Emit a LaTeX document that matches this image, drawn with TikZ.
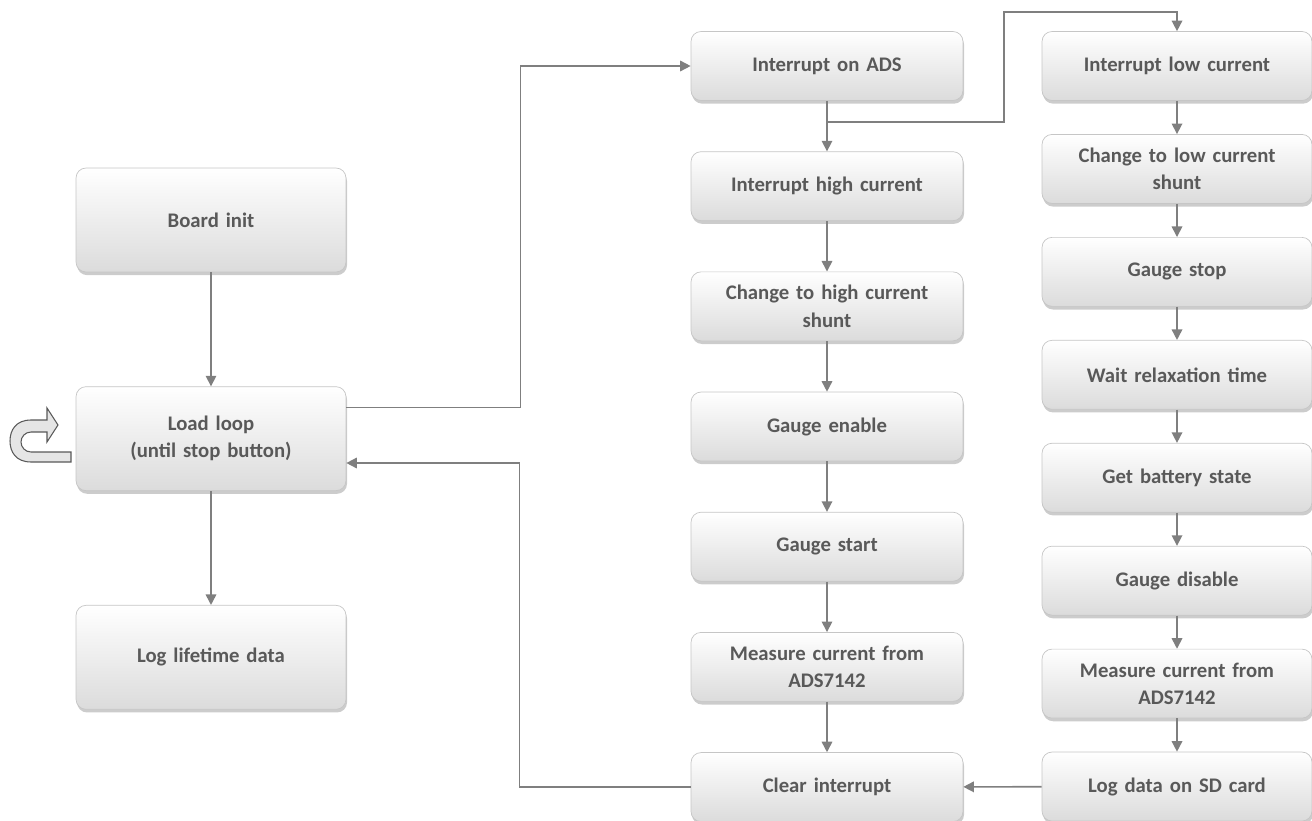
\documentclass[tikz,border=0pt]{standalone}
\usepackage{fontspec}
\setmainfont{Carlito}
\usetikzlibrary{positioning,shadows,arrows.meta}
\definecolor{boxtext}{HTML}{595959}
\definecolor{linegray}{HTML}{7F7F7F}

\begin{document}
\begin{tikzpicture}[x=0.02cm,y=-0.02cm,
  box/.style={rectangle,rounded corners=0.2cm,draw=gray!45,
    top color=white,bottom color=gray!28,
    drop shadow={opacity=0.4,shadow xshift=0.6pt,shadow yshift=-1.8pt},
    text=boxtext,font=\bfseries\fontsize{11.8}{15.5}\selectfont,
    align=center,text width=5cm,inner sep=2pt,
    minimum width=5.44cm,minimum height=1.38cm},
  big/.style={box,minimum width=5.4cm,minimum height=2.08cm},
  arr/.style={draw=linegray,line width=0.9pt,-{Triangle[length=6pt,width=6pt]}}]
  \useasboundingbox (0,0) rectangle (1312,821);

  \node[big] (init) at (211,220) {Board init};
  \node[big,below=2.28cm of init] (loop) {Load loop\\(until stop button)};
  \node[big,below=2.28cm of loop] (life) {Log lifetime data};

  \node[box] (ads) at (827,66) {Interrupt on ADS};
  \node[box,below=1.01cm of ads] (high) {Interrupt high current};
  \node[box,below=1.01cm of high] (shunthi) {Change to high current\\shunt};
  \node[box,below=1.01cm of shunthi] (enable) {Gauge enable};
  \node[box,below=1.01cm of enable] (start) {Gauge start};
  \node[box,below=1.01cm of start] (meashi) {Measure current from\\ADS7142};
  \node[box,below=1.01cm of meashi] (clear) {Clear interrupt};

  \node[box,minimum width=5.4cm] (low) at (1177,66) {Interrupt low current};
  \node[box,minimum width=5.4cm,below=0.665cm of low] (shuntlo) {Change to low current\\shunt};
  \node[box,minimum width=5.4cm,below=0.665cm of shuntlo] (stop) {Gauge stop};
  \node[box,minimum width=5.4cm,below=0.665cm of stop] (relax) {Wait relaxation time};
  \node[box,minimum width=5.4cm,below=0.665cm of relax] (state) {Get battery state};
  \node[box,minimum width=5.4cm,below=0.665cm of state] (disable) {Gauge disable};
  \node[box,minimum width=5.4cm,below=0.665cm of disable] (measlo) {Measure current from\\ADS7142};
  \node[box,minimum width=5.4cm,below=0.665cm of measlo] (sd) {Log data on SD card};

  \draw[arr] (init) -- (loop);
  \draw[arr] (loop) -- (life);
  \draw[arr] ([yshift=-0.42cm]loop.north east) -- ++(174,0) |- (ads.west);
  \draw[arr] (clear.west) -- ++(-171,0) |- ([yshift=0.56cm]loop.south east);
  \draw[arr] ([yshift=-0.42cm]ads.south) -- ++(177,0) -- ++(0,-110) -| (low.north);
  \foreach \a/\b in {ads/high,high/shunthi,shunthi/enable,enable/start,start/meashi,meashi/clear,
    low/shuntlo,shuntlo/stop,stop/relax,relax/state,state/disable,disable/measlo,measlo/sd}
    \draw[arr] (\a) -- (\b);
  \draw[arr] (sd) -- (clear);

  \draw[draw=gray!70!black,fill=gray!20,line width=0.6pt]
    (71,462) -- (31,462) .. controls (16,462) and (10,452) .. (10,441)
    .. controls (10,430) and (16,420) .. (31,420) -- (47,420) -- (47,408)
    -- (58,425) -- (47,442) -- (47,432) -- (31,432)
    .. controls (25,432) and (21,437) .. (21,442)
    .. controls (21,447) and (25,452) .. (31,452) -- (71,452) -- cycle;
\end{tikzpicture}
\end{document}
